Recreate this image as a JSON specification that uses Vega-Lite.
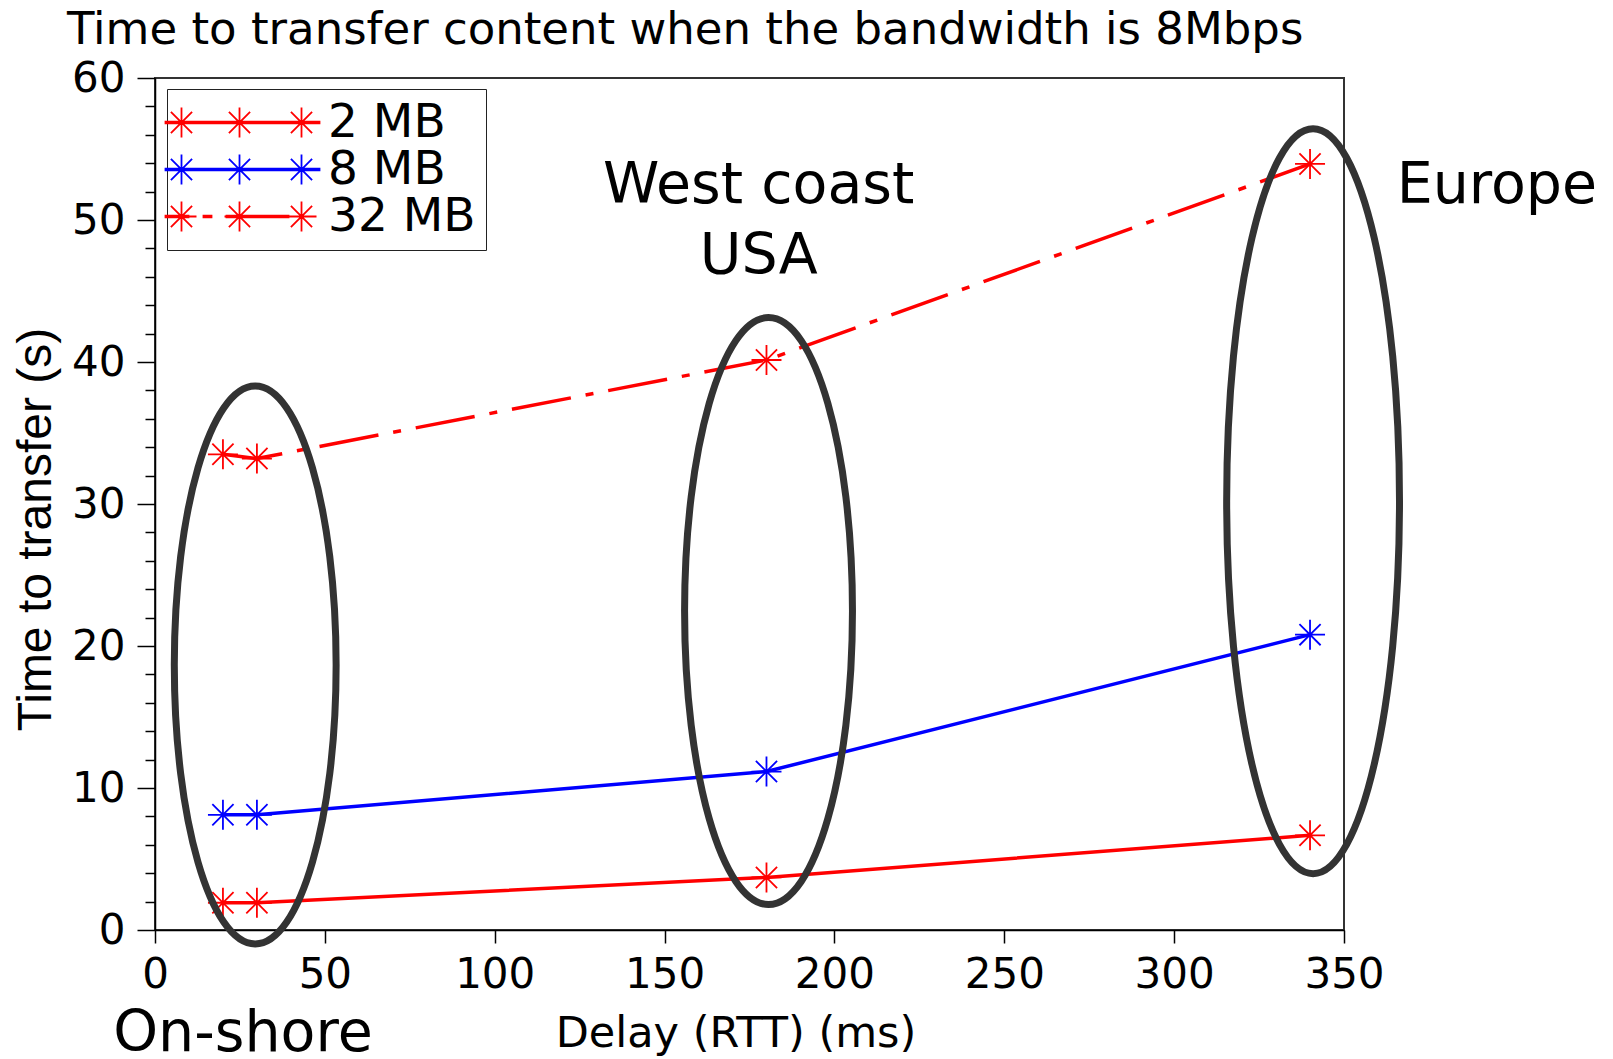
{
  "$schema": "https://vega.github.io/schema/vega-lite/v6.json",
  "width": 1189,
  "height": 852,
  "autosize": {"type": "none"},
  "padding": {"left": 155, "top": 78, "right": 269, "bottom": 129},
  "background": "white",
  "config": {
    "view": {"stroke": "#333333", "strokeWidth": 2},
    "font": "DejaVu Sans",
    "axis": {"labelOverlap": false},
    "legend": {
      "padding": 10,
      "strokeColor": "#222222",
      "fillColor": "white",
      "symbolSize": 1936,
      "symbolStrokeWidth": 1.8,
      "symbolOpacity": 1,
      "symbolOffset": -13,
      "labelOffset": 117,
      "labelFont": "DejaVu Sans",
      "labelFontSize": 47,
      "labelColor": "black",
      "labelLimit": 0,
      "rowPadding": -1.5
    }
  },
  "title": {
    "text": "Time to transfer content when the bandwidth is 8Mbps",
    "anchor": "start",
    "frame": "group",
    "dx": -88,
    "offset": -32,
    "baseline": "alphabetic",
    "font": "DejaVu Sans",
    "fontSize": 45,
    "fontWeight": "normal",
    "color": "black"
  },
  "datasets": {
    "transfer": [
      {"series": "2 MB", "delay": 20, "time": 1.92},
      {"series": "2 MB", "delay": 30, "time": 1.92},
      {"series": "2 MB", "delay": 180, "time": 3.7},
      {"series": "2 MB", "delay": 340, "time": 6.67},
      {"series": "8 MB", "delay": 20, "time": 8.11},
      {"series": "8 MB", "delay": 30, "time": 8.11},
      {"series": "8 MB", "delay": 180, "time": 11.16},
      {"series": "8 MB", "delay": 340, "time": 20.8},
      {"series": "32 MB", "delay": 20, "time": 33.5},
      {"series": "32 MB", "delay": 30, "time": 33.2},
      {"series": "32 MB", "delay": 180, "time": 40.14},
      {"series": "32 MB", "delay": 340, "time": 53.95}
    ],
    "regions": [
      {"region": "On-shore", "delay": 29.5, "time": 18.66},
      {"region": "West coast USA", "delay": 180.6, "time": 22.46},
      {"region": "Europe", "delay": 340.9, "time": 30.2}
    ],
    "labels": [
      {"text": "West coast\nUSA", "delay": 177.7, "time": 51.23},
      {"text": "Europe", "delay": 395.0, "time": 51.23},
      {"text": "On-shore", "delay": 25.9, "time": -8.55}
    ]
  },
  "layer": [
    {
      "data": {"name": "transfer"},
      "transform": [{"filter": "datum.series === '2 MB'"}],
      "mark": {"type": "line", "color": "#ff0000", "strokeWidth": 3.5},
      "encoding": {
        "x": {
          "field": "delay",
          "type": "quantitative",
          "scale": {"domain": [0, 350], "nice": false, "zero": false},
          "axis": {
            "values": [0, 50, 100, 150, 200, 250, 300, 350],
            "tickCount": 100,
            "format": "d",
            "grid": false,
            "tickSize": 13,
            "tickColor": "black",
            "tickWidth": 1.5,
            "domainColor": "black",
            "domainWidth": 1.5,
            "labelFont": "DejaVu Sans",
            "labelFontSize": 42,
            "labelColor": "black",
            "labelPadding": 11,
            "labelFlush": false,
            "labelOverlap": false,
            "title": "Delay (RTT) (ms)",
            "titleFont": "DejaVu Sans",
            "titleFontSize": 43,
            "titleFontWeight": "normal",
            "titleColor": "black",
            "titleX": 580.5,
            "titleY": 116.7,
            "titleAlign": "center",
            "titleBaseline": "alphabetic"
          }
        },
        "y": {
          "field": "time",
          "type": "quantitative",
          "scale": {"domain": [0, 60], "nice": false, "zero": false},
          "axis": {
            "values": [0, 2, 4, 6, 8, 10, 12, 14, 16, 18, 20, 22, 24, 26, 28, 30, 32, 34, 36, 38, 40, 42, 44, 46, 48, 50, 52, 54, 56, 58, 60],
            "tickCount": 100,
            "format": "d",
            "grid": false,
            "tickSize": {"condition": {"test": "datum.value % 10 === 0", "value": 18}, "value": 10},
            "tickColor": "black",
            "tickWidth": 1.5,
            "domainColor": "black",
            "domainWidth": 1.5,
            "labelExpr": "datum.value % 10 === 0 ? datum.label : ''",
            "labelFont": "DejaVu Sans",
            "labelFontSize": 42,
            "labelColor": "black",
            "labelPadding": 12,
            "labelFlush": false,
            "labelOverlap": false,
            "title": "Time to transfer (s)",
            "titleFont": "Liberation Sans",
            "titleFontSize": 48,
            "titleFontWeight": "normal",
            "titleColor": "black",
            "titleAngle": -90,
            "titleX": -105,
            "titleY": 451,
            "titleAlign": "center",
            "titleBaseline": "alphabetic"
          }
        }
      }
    },
    {
      "data": {"name": "transfer"},
      "transform": [{"filter": "datum.series === '8 MB'"}],
      "mark": {"type": "line", "color": "#0000ff", "strokeWidth": 3.5},
      "encoding": {
        "x": {"field": "delay", "type": "quantitative", "scale": {"domain": [0, 350], "nice": false, "zero": false}},
        "y": {"field": "time", "type": "quantitative", "scale": {"domain": [0, 60], "nice": false, "zero": false}}
      }
    },
    {
      "data": {"name": "transfer"},
      "transform": [{"filter": "datum.series === '32 MB'"}],
      "mark": {"type": "line", "color": "#ff0000", "strokeWidth": 3.5, "strokeDash": [60, 15, 8, 15]},
      "encoding": {
        "x": {"field": "delay", "type": "quantitative", "scale": {"domain": [0, 350], "nice": false, "zero": false}},
        "y": {"field": "time", "type": "quantitative", "scale": {"domain": [0, 60], "nice": false, "zero": false}}
      }
    },
    {
      "data": {"name": "transfer"},
      "transform": [{"filter": "datum.series !== '8 MB'"}],
      "mark": {
        "type": "point",
        "shape": "M0,-1L0,1M-1,0L1,0M-0.707,-0.707L0.707,0.707M-0.707,0.707L0.707,-0.707",
        "size": 900,
        "filled": false,
        "color": "#ff0000",
        "strokeWidth": 1.8,
        "opacity": 1
      },
      "encoding": {
        "x": {"field": "delay", "type": "quantitative", "scale": {"domain": [0, 350], "nice": false, "zero": false}},
        "y": {"field": "time", "type": "quantitative", "scale": {"domain": [0, 60], "nice": false, "zero": false}}
      }
    },
    {
      "data": {"name": "transfer"},
      "transform": [{"filter": "datum.series === '8 MB'"}],
      "mark": {
        "type": "point",
        "shape": "M0,-1L0,1M-1,0L1,0M-0.707,-0.707L0.707,0.707M-0.707,0.707L0.707,-0.707",
        "size": 900,
        "filled": false,
        "color": "#0000ff",
        "strokeWidth": 1.8,
        "opacity": 1
      },
      "encoding": {
        "x": {"field": "delay", "type": "quantitative", "scale": {"domain": [0, 350], "nice": false, "zero": false}},
        "y": {"field": "time", "type": "quantitative", "scale": {"domain": [0, 60], "nice": false, "zero": false}}
      }
    },
    {
      "data": {"name": "transfer"},
      "mark": {"type": "point", "opacity": 0, "filled": true},
      "encoding": {
        "x": {"field": "delay", "type": "quantitative", "scale": {"domain": [0, 350], "nice": false, "zero": false}},
        "y": {"field": "time", "type": "quantitative", "scale": {"domain": [0, 60], "nice": false, "zero": false}},
        "fill": {
          "field": "series",
          "type": "nominal",
          "scale": {"domain": ["2 MB", "8 MB", "32 MB"], "range": ["#ff0000", "#0000ff", "#ff0000"]},
          "legend": {"title": null, "orient": "none", "legendX": 12, "legendY": 11}
        },
        "stroke": {
          "field": "series",
          "type": "nominal",
          "scale": {"domain": ["2 MB", "8 MB", "32 MB"], "range": ["#ff0000", "#0000ff", "#ff0000"]},
          "legend": {"title": null, "orient": "none", "legendX": 12, "legendY": 11}
        },
        "shape": {
          "field": "series",
          "type": "nominal",
          "scale": {
            "domain": ["2 MB", "8 MB", "32 MB"],
            "range": [
              "M-1,-0.036L6,-0.036L6,0.036L-1,0.036Z M-0.273,-0.682L-0.273,0.682M-0.955,0L0.409,0M-0.755,-0.482L0.209,0.482M-0.755,0.482L0.209,-0.482 M2.364,-0.682L2.364,0.682M1.682,0L3.046,0M1.882,-0.482L2.846,0.482M1.882,0.482L2.846,-0.482 M5.182,-0.682L5.182,0.682M4.5,0L5.864,0M4.7,-0.482L5.664,0.482M4.7,0.482L5.664,-0.482",
              "M-1,-0.036L6,-0.036L6,0.036L-1,0.036Z M-0.273,-0.682L-0.273,0.682M-0.955,0L0.409,0M-0.755,-0.482L0.209,0.482M-0.755,0.482L0.209,-0.482 M2.364,-0.682L2.364,0.682M1.682,0L3.046,0M1.882,-0.482L2.846,0.482M1.882,0.482L2.846,-0.482 M5.182,-0.682L5.182,0.682M4.5,0L5.864,0M4.7,-0.482L5.664,0.482M4.7,0.482L5.664,-0.482",
              "M-1,-0.036L0.045,-0.036L0.045,0.036L-1,0.036Z M0.727,-0.036L1.091,-0.036L1.091,0.036L0.727,0.036Z M1.773,-0.036L4.591,-0.036L4.591,0.036L1.773,0.036Z M-0.273,-0.682L-0.273,0.682M-0.955,0L0.409,0M-0.755,-0.482L0.209,0.482M-0.755,0.482L0.209,-0.482 M2.364,-0.682L2.364,0.682M1.682,0L3.046,0M1.882,-0.482L2.846,0.482M1.882,0.482L2.846,-0.482 M5.182,-0.682L5.182,0.682M4.5,0L5.864,0M4.7,-0.482L5.664,0.482M4.7,0.482L5.664,-0.482"
            ]
          },
          "legend": {"title": null, "orient": "none", "legendX": 12, "legendY": 11}
        }
      }
    },
    {
      "data": {"name": "regions"},
      "transform": [{"filter": "datum.region === 'On-shore'"}],
      "mark": {
        "type": "point",
        "shape": "M0.29,0C0.29,0.552,0.16,1,0,1C-0.16,1,-0.29,0.552,-0.29,0C-0.29,-0.552,-0.16,-1,0,-1C0.16,-1,0.29,-0.552,0.29,0Z",
        "size": 311364,
        "filled": false,
        "stroke": "#333333",
        "strokeWidth": 7,
        "opacity": 1
      },
      "encoding": {
        "x": {"field": "delay", "type": "quantitative", "scale": {"domain": [0, 350], "nice": false, "zero": false}},
        "y": {"field": "time", "type": "quantitative", "scale": {"domain": [0, 60], "nice": false, "zero": false}}
      }
    },
    {
      "data": {"name": "regions"},
      "transform": [{"filter": "datum.region === 'West coast USA'"}],
      "mark": {
        "type": "point",
        "shape": "M0.286,0C0.286,0.552,0.158,1,0,1C-0.158,1,-0.286,0.552,-0.286,0C-0.286,-0.552,-0.158,-1,0,-1C0.158,-1,0.286,-0.552,0.286,0Z",
        "size": 344569,
        "filled": false,
        "stroke": "#333333",
        "strokeWidth": 7,
        "opacity": 1
      },
      "encoding": {
        "x": {"field": "delay", "type": "quantitative", "scale": {"domain": [0, 350], "nice": false, "zero": false}},
        "y": {"field": "time", "type": "quantitative", "scale": {"domain": [0, 60], "nice": false, "zero": false}}
      }
    },
    {
      "data": {"name": "regions"},
      "transform": [{"filter": "datum.region === 'Europe'"}],
      "mark": {
        "type": "point",
        "shape": "M0.232,0C0.232,0.552,0.128,1,0,1C-0.128,1,-0.232,0.552,-0.232,0C-0.232,-0.552,-0.128,-1,0,-1C0.128,-1,0.232,-0.552,0.232,0Z",
        "size": 555025,
        "filled": false,
        "stroke": "#333333",
        "strokeWidth": 7,
        "opacity": 1
      },
      "encoding": {
        "x": {"field": "delay", "type": "quantitative", "scale": {"domain": [0, 350], "nice": false, "zero": false}},
        "y": {"field": "time", "type": "quantitative", "scale": {"domain": [0, 60], "nice": false, "zero": false}}
      }
    },
    {
      "data": {"name": "labels"},
      "mark": {
        "type": "text",
        "font": "DejaVu Sans",
        "fontSize": 57,
        "color": "black",
        "align": "center",
        "baseline": "alphabetic",
        "lineBreak": "\n",
        "lineHeight": 71
      },
      "encoding": {
        "x": {"field": "delay", "type": "quantitative", "scale": {"domain": [0, 350], "nice": false, "zero": false}},
        "y": {"field": "time", "type": "quantitative", "scale": {"domain": [0, 60], "nice": false, "zero": false}},
        "text": {"field": "text", "type": "nominal"}
      }
    }
  ]
}
